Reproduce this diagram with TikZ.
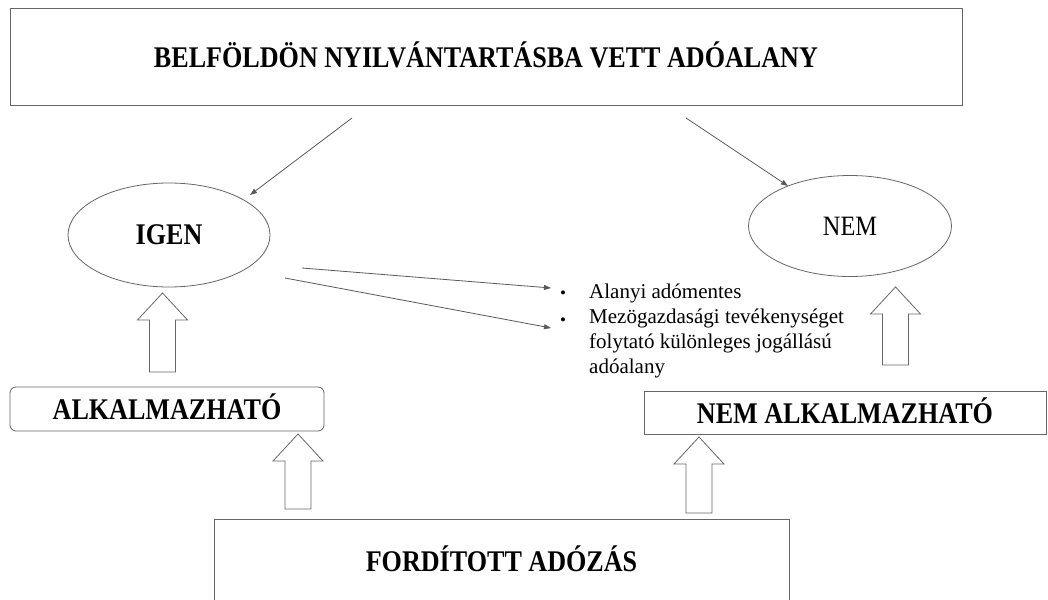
\documentclass[tikz,border=0pt]{standalone}
\usepackage{fontspec}
\setmainfont{Liberation Serif}
\newfontfamily\keskeny{Liberation Serif}[FakeStretch=0.87]
\usetikzlibrary{shapes.geometric,arrows.meta}

\tikzset{
  keret/.style={draw=black!60, line width=0.8pt, inner sep=0pt, text depth=4pt, font=\keskeny\fontsize{30}{34}\selectfont\bfseries},
  ovalis/.style={ellipse, draw=black!60, line width=0.8pt, inner sep=0pt},
  nyil/.style={draw=black!65, line width=0.8pt, -{Triangle[length=7pt,width=5pt]}},
  ures/.style={draw=black!60, line width=0.8pt, fill=white},
  pont/.style={font=\fontsize{21}{25}\selectfont, anchor=base west, inner sep=0pt}
}
\newcommand{\blokknyil}[3]{\draw[ures] (#1,#2) -- ++(25,27) -- ++(-12,0) -- (#1+13,#3) -- (#1-13,#3) -- (#1-13,#2+27) -- ++(-12,0) -- cycle;}

\begin{document}
\begin{tikzpicture}[x=1pt,y=-1pt]
\useasboundingbox (0,0) rectangle (1048,599);
\fill[white] (0,0) rectangle (1048,599);
\clip (0,0) rectangle (1048,599);
% dobozok
\node[keret, minimum width=952pt, minimum height=97pt] (reg) at (486,56.5) {BELFÖLDÖN NYILVÁNTARTÁSBA VETT ADÓALANY};
\node[keret, rounded corners=6pt, minimum width=314pt, minimum height=44pt] (alk) at (167,409) {ALKALMAZHATÓ};
\node[keret, minimum width=402pt, minimum height=43pt] (nemalk) at (845,412.5) {NEM ALKALMAZHATÓ};
\node[keret, minimum width=575pt, minimum height=90pt, text depth=10pt] (ford) at (501.5,564) {FORDÍTOTT ADÓZÁS};
% ellipszisek
\node[ovalis, minimum width=202pt, minimum height=104pt, font=\keskeny\fontsize{30}{34}\selectfont\bfseries] (igen) at (169,235) {IGEN};
\node[ovalis, minimum width=203pt, minimum height=101pt, font=\keskeny\fontsize{28}{32}\selectfont] (nem) at (850,226) {NEM};
% felsorolas
\node[pont] (t1) at (589,298) {Alanyi adómentes};
\node[pont] (t2) at (589,323) {Mezögazdasági tevékenységet};
\node[pont] (t3) at (589,348) {folytató különleges jogállású};
\node[pont] (t4) at (589,373) {adóalany};
\node[pont, anchor=base, font=\fontsize{17}{20}\selectfont] (b1) at (563,298) {\textbullet};
\node[pont, anchor=base, font=\fontsize{17}{20}\selectfont] (b2) at (563,325) {\textbullet};
% nyilak
\coordinate (r1) at (352,118);
\coordinate (i1) at (250,195);
\coordinate (r2) at (686,118);
\coordinate (n1) at (788,186);
\coordinate (i2) at (302,268);
\coordinate (p1) at (551,288);
\coordinate (i3) at (285,278);
\coordinate (p2) at (551,328);
\draw[nyil] (r1) -- (i1);
\draw[nyil] (r2) -- (n1);
\draw[nyil] (i2) -- (p1);
\draw[nyil] (i3) -- (p2);
% ures nyilak
\blokknyil{162.5}{293}{372}
\blokknyil{298}{434}{509}
\blokknyil{699}{437}{513}
\blokknyil{895.5}{287}{365}
\end{tikzpicture}
\end{document}
